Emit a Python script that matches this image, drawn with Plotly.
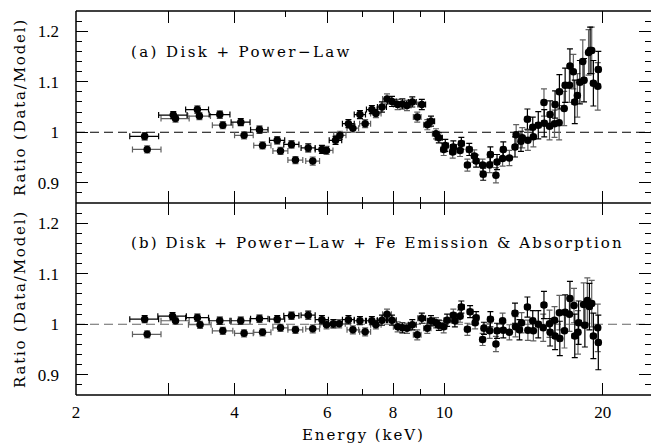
import math
import plotly.graph_objects as go

# ---------------- data ----------------
top_energy = [2.70, 2.73, 3.06, 3.09, 3.40, 3.43, 3.75, 3.80, 4.11, 4.17, 4.46, 4.52, 4.82, 4.89,
              5.13, 5.22, 5.52, 5.63, 5.86, 5.98, 6.22, 6.34, 6.58, 6.71, 6.92, 7.08, 7.29, 7.42,
              7.62, 7.79, 7.96, 8.16, 8.33, 8.50, 8.70, 8.89, 9.07, 9.29, 9.44, 9.65, 9.77, 9.98,
              10.05, 10.38, 10.41, 10.72, 10.78, 11.07, 11.16, 11.41, 11.50, 11.83, 11.86, 12.20,
              12.24, 12.54, 12.60, 12.91, 12.95, 13.30, 13.63, 13.70, 13.99, 14.07, 14.39, 14.42,
              14.73, 14.77, 15.09, 15.47, 15.49, 15.85, 15.89, 16.20, 16.24, 16.53, 16.55, 16.90,
              16.97, 17.29, 17.33, 17.59, 17.70, 17.90, 18.10, 18.33, 18.43, 18.80, 18.93, 19.06,
              19.20, 19.57, 19.62]
top_ratio = [0.992, 0.966, 1.034, 1.027, 1.045, 1.032, 1.035, 1.014, 1.020, 0.994, 1.005, 0.974,
             0.984, 0.963, 0.976, 0.945, 0.969, 0.943, 0.966, 0.964, 0.984, 0.994, 1.017, 1.008,
             1.035, 1.017, 1.045, 1.037, 1.050, 1.066, 1.061, 1.055, 1.056, 1.053, 1.060, 1.030,
             1.055, 1.015, 1.022, 0.997, 0.989, 0.966, 0.974, 0.961, 0.971, 0.964, 0.978, 0.935,
             0.966, 0.953, 0.943, 0.935, 0.917, 0.935, 0.956, 0.915, 0.941, 0.948, 0.966, 0.949,
             0.971, 0.995, 0.982, 0.989, 1.026, 0.984, 1.010, 0.991, 1.014, 1.059, 1.018, 1.012,
             1.035, 1.017, 1.055, 1.019, 1.080, 1.047, 1.093, 1.093, 1.131, 1.120, 1.060, 1.073,
             1.099, 1.140, 1.103, 1.158, 1.162, 1.162, 1.097, 1.091, 1.124]
top_err = [0.007, 0.007, 0.007, 0.007, 0.007, 0.007, 0.007, 0.007, 0.007, 0.007, 0.007, 0.007,
           0.007, 0.007, 0.007, 0.007, 0.008, 0.008, 0.008, 0.008, 0.008, 0.008, 0.008, 0.008,
           0.008, 0.008, 0.008, 0.008, 0.010, 0.010, 0.010, 0.010, 0.010, 0.010, 0.010, 0.010,
           0.010, 0.010, 0.010, 0.010, 0.010, 0.012, 0.012, 0.012, 0.012, 0.012, 0.012, 0.012,
           0.012, 0.012, 0.012, 0.012, 0.012, 0.015, 0.015, 0.015, 0.015, 0.015, 0.015, 0.015,
           0.020, 0.020, 0.020, 0.020, 0.020, 0.020, 0.020, 0.020, 0.027, 0.027, 0.027, 0.027,
           0.027, 0.027, 0.027, 0.034, 0.034, 0.034, 0.034, 0.034, 0.034, 0.034, 0.043, 0.043,
           0.043, 0.043, 0.043, 0.045, 0.046, 0.046, 0.045, 0.047, 0.036]

bottom_energy = [2.70, 2.73, 3.05, 3.09, 3.40, 3.44, 3.75, 3.80, 4.11, 4.17, 4.46, 4.52, 4.82, 4.89,
                 5.13, 5.22, 5.52, 5.63, 5.86, 5.98, 6.16, 6.32, 6.58, 6.71, 6.92, 7.08, 7.29, 7.42,
                 7.62, 7.79, 7.96, 8.16, 8.33, 8.50, 8.70, 8.89, 9.07, 9.29, 9.44, 9.65, 9.77, 9.98,
                 10.13, 10.41, 10.48, 10.72, 10.78, 11.07, 11.20, 11.45, 11.50, 11.83, 11.90, 12.20,
                 12.24, 12.54, 12.60, 12.91, 12.95, 13.30, 13.63, 13.66, 13.90, 14.03, 14.39, 14.42,
                 14.73, 14.77, 15.09, 15.42, 15.47, 15.85, 15.89, 16.20, 16.24, 16.55, 16.58, 16.92,
                 16.97, 17.29, 17.33, 17.64, 17.70, 17.95, 18.00, 18.40, 18.50, 18.70, 18.87, 19.06,
                 19.20, 19.57, 19.62]
bottom_ratio = [1.010, 0.980, 1.016, 1.007, 1.013, 0.999, 1.007, 0.987, 1.007, 0.982, 1.011, 0.984,
                1.010, 0.993, 1.017, 0.989, 1.018, 0.991, 1.009, 0.999, 1.001, 1.001, 1.009, 0.989,
                1.007, 0.985, 1.007, 0.999, 1.008, 1.020, 1.008, 0.995, 0.993, 0.992, 0.999, 0.979,
                1.012, 0.992, 1.007, 1.003, 0.998, 0.995, 1.008, 1.018, 1.007, 1.016, 1.034, 0.990,
                1.025, 1.003, 1.013, 0.970, 0.992, 0.987, 1.010, 0.961, 0.987, 1.007, 0.988, 0.984,
                1.022, 0.995, 0.989, 1.003, 1.034, 0.988, 1.007, 0.987, 1.000, 0.993, 1.038, 1.001,
                0.984, 1.008, 0.977, 1.023, 0.972, 0.987, 1.024, 1.020, 1.051, 1.037, 0.977, 0.984,
                1.003, 1.039, 0.998, 1.047, 1.035, 1.041, 0.977, 0.993, 0.964]
bottom_err = [0.007, 0.007, 0.007, 0.007, 0.007, 0.007, 0.007, 0.007, 0.007, 0.007, 0.007, 0.007,
              0.007, 0.007, 0.007, 0.007, 0.008, 0.008, 0.008, 0.008, 0.008, 0.008, 0.008, 0.008,
              0.008, 0.008, 0.008, 0.008, 0.010, 0.010, 0.010, 0.010, 0.010, 0.010, 0.010, 0.010,
              0.010, 0.010, 0.010, 0.010, 0.010, 0.012, 0.012, 0.012, 0.012, 0.012, 0.012, 0.012,
              0.012, 0.012, 0.012, 0.012, 0.012, 0.015, 0.015, 0.015, 0.015, 0.015, 0.015, 0.015,
              0.020, 0.020, 0.020, 0.020, 0.020, 0.020, 0.020, 0.020, 0.027, 0.027, 0.027, 0.027,
              0.027, 0.027, 0.027, 0.034, 0.034, 0.034, 0.034, 0.034, 0.034, 0.034, 0.043, 0.043,
              0.043, 0.043, 0.043, 0.045, 0.046, 0.046, 0.045, 0.047, 0.054]

# energy bin half-widths (keV)
bin_halfwidth = [
    0.17, 0.17, 0.19, 0.19, 0.17, 0.17, 0.17, 0.17, 0.17, 0.17, 0.17, 0.17, 0.16, 0.16,
    0.17, 0.17, 0.17, 0.17, 0.17, 0.17, 0.17, 0.17, 0.17, 0.17, 0.17, 0.17, 0.17, 0.17,
    0.15, 0.15, 0.15, 0.15, 0.15, 0.15, 0.15, 0.15, 0.15, 0.15, 0.15, 0.15, 0.15, 0.13,
    0.13, 0.13, 0.13, 0.13, 0.13, 0.13, 0.13, 0.13, 0.13, 0.13, 0.13, 0.13, 0.13, 0.13,
    0.13, 0.13, 0.13, 0.13, 0.15, 0.15, 0.15, 0.15, 0.15, 0.15, 0.15, 0.15, 0.17, 0.17,
    0.17, 0.17, 0.17, 0.17, 0.17, 0.17, 0.17, 0.17, 0.17, 0.17, 0.17, 0.17, 0.20, 0.20,
    0.20, 0.20, 0.20, 0.20, 0.20, 0.20, 0.20, 0.20, 0.20]

x_tick_vals = [2, 3, 4, 6, 8, 10, 20]
x_tick_text = ["2", "", "4", "6", "8", "10", "20"]
x_minor_vals = [5, 7, 9]
y_tick_vals = [0.9, 1.0, 1.1, 1.2]
y_tick_text = ["0.9", "1", "1.1", "1.2"]

label_a = "(a) Disk + Power\u2212Law"
label_b = "(b) Disk + Power\u2212Law + Fe Emission &amp; Absorption"
y_title = "Ratio (Data/Model)"
x_title = "Energy (keV)"

# ---------------- figure ----------------
TXT = "DejaVu Serif"
SERIF = "Liberation Serif"


def spaced(s, px):
    return '<span style="letter-spacing:%spx">%s</span>' % (px, s)


fig = go.Figure()

panels = [("x", "y", top_energy, top_ratio, top_err),
          ("x2", "y2", bottom_energy, bottom_ratio, bottom_err)]
for xa, ya, E, R, dR in panels:
    for grp, ecol in ((1, "#606060"), (0, "black")):
        idx = [i for i in range(len(E)) if i % 2 == grp]
        fig.add_trace(go.Scatter(
            x=[E[i] for i in idx], y=[R[i] for i in idx], mode="markers",
            marker=dict(color="black", size=7.5, line=dict(width=0)),
            error_x=dict(type="data", symmetric=True, array=[bin_halfwidth[i] for i in idx],
                         color=ecol, thickness=1.2, width=3),
            error_y=dict(type="data", symmetric=True, array=[dR[i] for i in idx],
                         color=ecol, thickness=1.2, width=3),
            xaxis=xa, yaxis=ya, showlegend=False, hoverinfo="skip"))

xr = [math.log10(2), math.log10(24.7)]
xcommon = dict(type="log", range=xr, tickmode="array", tickvals=x_tick_vals, ticktext=x_tick_text,
               ticks="inside", ticklen=12, tickwidth=1.2, tickcolor="black",
               showline=False, mirror="ticks", showgrid=False, zeroline=False,
               minor=dict(tickmode="array", tickvals=x_minor_vals, ticks="inside", ticklen=6,
                          tickwidth=1.2, tickcolor="black", showgrid=False),
               tickfont=dict(family=SERIF, size=17, color="black"))
ycommon = dict(range=[0.86, 1.24], tickmode="array", tickvals=y_tick_vals, ticktext=y_tick_text,
               ticks="inside", ticklen=12, tickwidth=1.2, tickcolor="black",
               showline=False, mirror="ticks", showgrid=False, zeroline=False,
               minor=dict(dtick=0.02, tick0=0.86, ticks="inside", ticklen=6, tickwidth=1.2,
                          tickcolor="black", showgrid=False),
               tickfont=dict(family=SERIF, size=17, color="black"), ticklabelstandoff=16)

fig.update_layout(
    width=651, height=445, margin=dict(l=76, r=0, t=11, b=50),
    paper_bgcolor="white", plot_bgcolor="white",
    xaxis=dict(xcommon, anchor="y", showticklabels=False),
    xaxis2=dict(xcommon, anchor="y2", ticklabelstandoff=5),
    yaxis=dict(ycommon, domain=[0.5, 1.0], anchor="x"),
    yaxis2=dict(ycommon, domain=[0.0, 0.5], anchor="x2"),
)

frame = dict(color="black", width=1.5)
shapes = [
    dict(type="line", xref="x domain", yref="y", x0=0, x1=1, y0=1, y1=1, layer="below",
         line=dict(color="black", width=1, dash="9px,5px")),
    dict(type="line", xref="x2 domain", yref="y2", x0=0, x1=1, y0=1, y1=1, layer="below",
         line=dict(color="#666666", width=1, dash="9px,5px")),
    dict(type="line", xref="paper", yref="paper", x0=0, x1=0, y0=0, y1=1, line=frame),
    dict(type="line", xref="paper", yref="paper", x0=0, x1=1, y0=1, y1=1, line=frame),
    dict(type="line", xref="paper", yref="paper", x0=0, x1=1, y0=0.5, y1=0.5, line=frame),
    dict(type="line", xref="paper", yref="paper", x0=0, x1=1, y0=0, y1=0, line=frame),
]
fig.update_layout(shapes=shapes)

tf = dict(family=TXT, size=15, color="black")
ann = [
    dict(text=spaced(label_a, 2.4), xref="paper", yref="paper", x=0, y=1, xshift=53, yshift=-41,
         xanchor="left", yanchor="middle", showarrow=False, font=tf),
    dict(text=spaced(label_b, 2.1), xref="paper", yref="paper", x=0, y=1, xshift=53, yshift=-232,
         xanchor="left", yanchor="middle", showarrow=False, font=tf),
    dict(text=spaced(y_title, 1.8), xref="paper", yref="paper", x=0, y=0.75, xshift=-56,
         textangle=-90, xanchor="center", yanchor="middle", showarrow=False, font=tf),
    dict(text=spaced(y_title, 1.8), xref="paper", yref="paper", x=0, y=0.25, xshift=-56,
         textangle=-90, xanchor="center", yanchor="middle", showarrow=False, font=tf),
    dict(text=spaced(x_title, 1.9), xref="paper", yref="paper", x=0.5, y=0, yshift=-40,
         xanchor="center", yanchor="middle", showarrow=False, font=tf),
]
fig.update_layout(annotations=ann)

fig.write_html("out.html")
